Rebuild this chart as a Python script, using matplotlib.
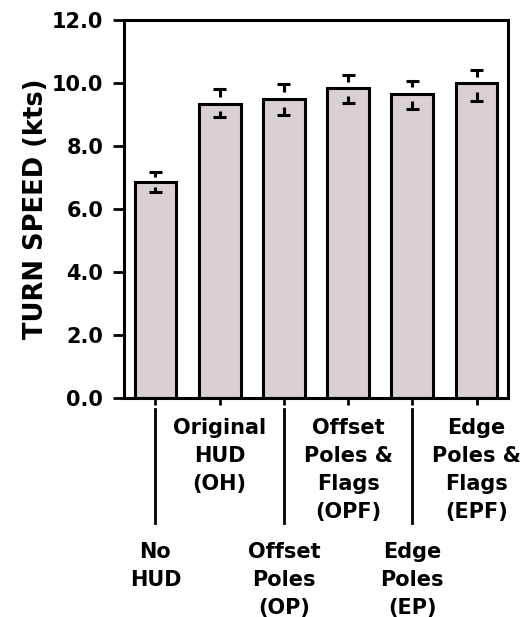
import matplotlib
matplotlib.use("Agg")
import matplotlib.pyplot as plt
import matplotlib.transforms as mtransforms

# data
labels_top = ['Original\nHUD\n(OH)', 'Offset\nPoles &\nFlags\n(OPF)', 'Edge\nPoles &\nFlags\n(EPF)']
labels_bottom = ['No\nHUD', 'Offset\nPoles\n(OP)', 'Edge\nPoles\n(EP)']
speeds = [6.85, 9.33, 9.49, 9.84, 9.65, 10.0]
err_up = [0.32, 0.48, 0.48, 0.40, 0.42, 0.40]
err_down = [0.32, 0.42, 0.52, 0.48, 0.46, 0.58]
yticks = [0, 2, 4, 6, 8, 10, 12]

plt.rcParams['font.family'] = ['DejaVu Sans']
plt.rcParams['font.weight'] = 'bold'

fig = plt.figure(figsize=(5.31, 6.17), dpi=100)
ax = fig.add_axes([0.2335, 0.355, 0.7232, 0.6125])

x = list(range(len(speeds)))
ax.bar(x, speeds, width=0.65, color='#d8d0d1', edgecolor='black', linewidth=2.2, zorder=2)

# broken error bars: cap plus half stem at each end
for xi, v, eu, ed in zip(x, speeds, err_up, err_down):
    ax.hlines([v + eu, v - ed], xi - 0.1, xi + 0.1, color='black', linewidth=2.2, zorder=3)
    ax.vlines(xi, v + eu / 2, v + eu, color='black', linewidth=2.2, zorder=3)
    ax.vlines(xi, v - ed, v - ed / 2, color='black', linewidth=2.2, zorder=3)

ax.set_xlim(-0.49, 5.49)
ax.set_ylim(0, 12)
ax.set_yticks(yticks)
ax.set_yticklabels(['%.1f' % t for t in yticks], fontsize=15, fontweight='bold')
ax.tick_params(axis='y', direction='out', length=8, width=2, pad=7)
ax.set_xticks(x)
ax.set_xticklabels([])
ax.tick_params(axis='x', direction='out', length=5, width=2)
for s in ax.spines.values():
    s.set_linewidth(2.2)

ax.set_ylabel('TURN SPEED (kts)', fontsize=18.5, fontweight='bold', labelpad=2)

# staggered category labels under the axis
trans = mtransforms.blended_transform_factory(ax.transData, ax.transAxes)
for i, lab in enumerate(labels_bottom):
    xi = x[2 * i]
    ax.plot([xi, xi], [-0.029, -0.331], color='black', linewidth=2, transform=trans, clip_on=False)
    ax.text(xi, -0.38, lab, transform=trans, ha='center', va='top', fontsize=15,
            fontweight='bold', linespacing=1.5)
for i, lab in enumerate(labels_top):
    xi = x[2 * i + 1]
    ax.text(xi, -0.052, lab, transform=trans, ha='center', va='top', fontsize=15,
            fontweight='bold', linespacing=1.5)

plt.savefig('out.png', dpi=100)
